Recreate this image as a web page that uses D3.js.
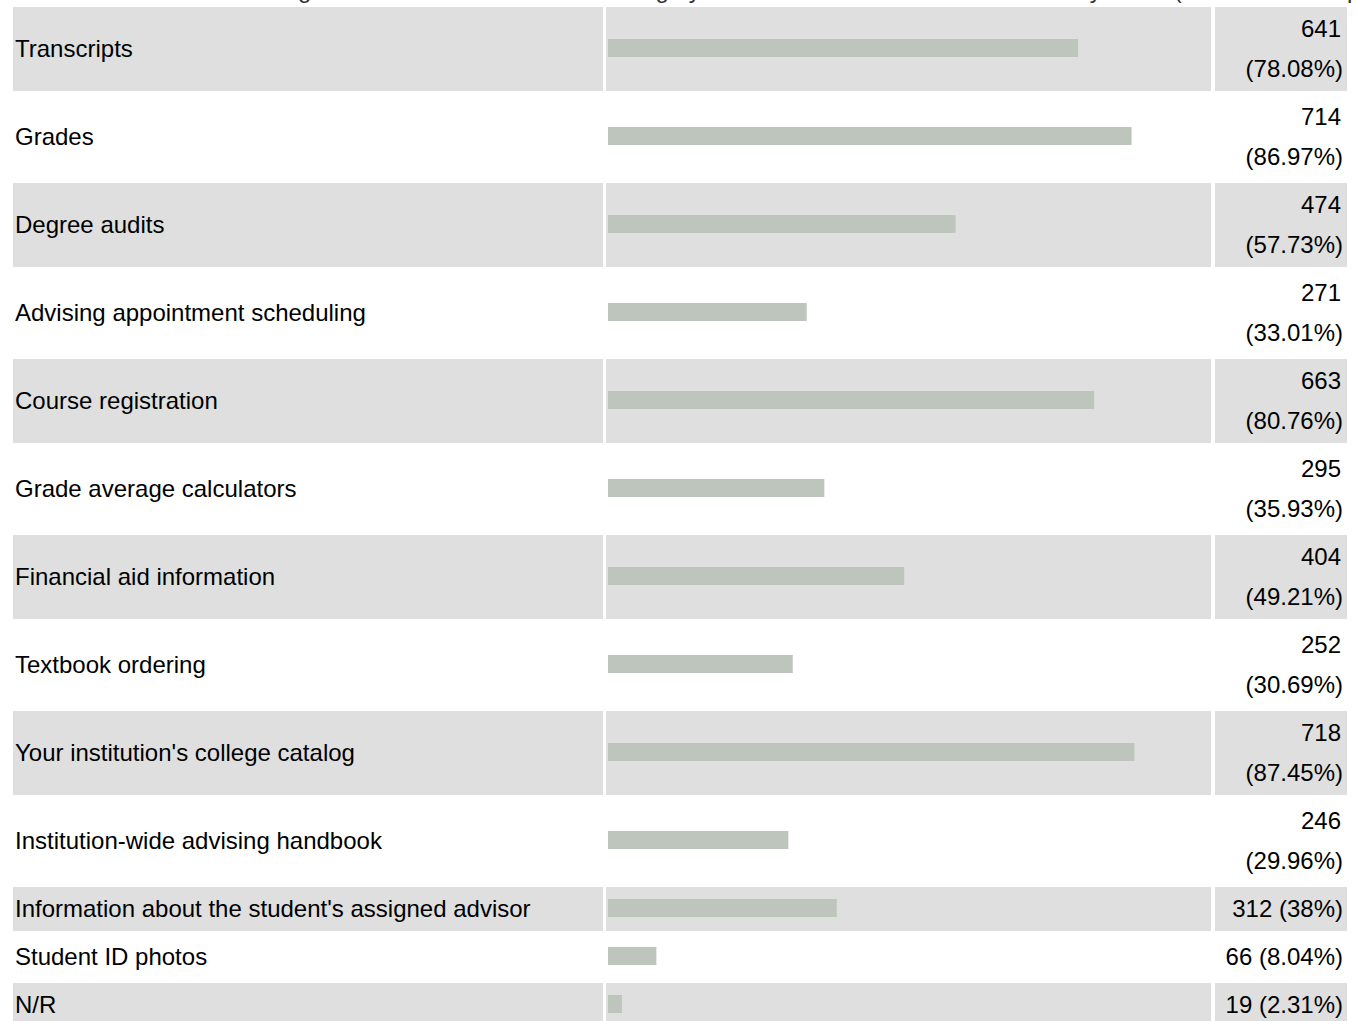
<!DOCTYPE html>
<html>
<head>
<meta charset="utf-8">
<script src="https://cdn.jsdelivr.net/npm/d3@7"></script>
<style>
  html, body { margin: 0; padding: 0; background: #ffffff; }
  svg { display: block; }
  text { font-family: "Liberation Sans", Arial, sans-serif; }
</style>
</head>
<body>
<svg id="chart" width="1357" height="1021"></svg>
<script>
const titleText = "Which of the following are accessible to advisors through your institution's student information system? (Check all that apply)";
const categories = [
  "Transcripts",
  "Grades",
  "Degree audits",
  "Advising appointment scheduling",
  "Course registration",
  "Grade average calculators",
  "Financial aid information",
  "Textbook ordering",
  "Your institution's college catalog",
  "Institution-wide advising handbook",
  "Information about the student's assigned advisor",
  "Student ID photos",
  "N/R"
];
const counts = [641, 714, 474, 271, 663, 295, 404, 252, 718, 246, 312, 66, 19];
const percents = [78.08, 86.97, 57.73, 33.01, 80.76, 35.93, 49.21, 30.69, 87.45, 29.96, 38, 8.04, 2.31];
const percentLabels = ["78.08%", "86.97%", "57.73%", "33.01%", "80.76%", "35.93%", "49.21%", "30.69%", "87.45%", "29.96%", "38%", "8.04%", "2.31%"];

const svg = d3.select("#chart");
const W = 1357;
const fontSize = 24;
const labelX0 = 13, labelX1 = 603;
const barX0 = 606, barX1 = 1211;
const valX0 = 1215, valX1 = 1347;
const gap = 4;
const bandColor = "#dfdfdf";
const barColor = "#bec5bc";
const barH = 18;
const lineGap = 40;

// title (cut off at top of view, as in the reference)
svg.append("text")
  .attr("x", W / 2 + 60).attr("y", -2)
  .attr("text-anchor", "middle")
  .attr("font-size", fontSize)
  .attr("fill", "#333")
  .text(titleText);

// measure whether the value label fits on a single line
const measure = svg.append("text").attr("font-size", fontSize).attr("visibility", "hidden");
function textW(s) { measure.text(s); return measure.node().getComputedTextLength(); }

const rows = categories.map((c, i) => {
  const one = counts[i] + " (" + percentLabels[i] + ")";
  const fits = textW(one) <= (valX1 - valX0 - 6);
  return { cat: c, count: counts[i], pct: percents[i], label: percentLabels[i], one, fits, h: fits ? 44 : 84 };
});
measure.remove();

let y = 7;
rows.forEach(r => { r.y = y; y += r.h + gap; });

const x = d3.scaleLinear().domain([0, 100]).range([barX0 + 2, barX0 + 2 + 602]);

const g = svg.selectAll("g.row").data(rows).join("g").attr("class", "row")
  .attr("transform", d => `translate(0,${d.y})`);

// alternating background bands
g.filter((d, i) => i % 2 === 0).each(function (d) {
  const s = d3.select(this);
  s.append("rect").attr("x", labelX0).attr("y", 0).attr("width", labelX1 - labelX0).attr("height", d.h).attr("fill", bandColor);
  s.append("rect").attr("x", barX0).attr("y", 0).attr("width", barX1 - barX0).attr("height", d.h).attr("fill", bandColor);
  s.append("rect").attr("x", valX0).attr("y", 0).attr("width", valX1 - valX0).attr("height", d.h).attr("fill", bandColor);
});

// labels
g.append("text")
  .attr("x", 15).attr("y", d => d.h / 2)
  .attr("dy", "0.35em")
  .attr("font-size", fontSize)
  .attr("fill", "#000")
  .text(d => d.cat);

// bars
g.append("rect")
  .attr("x", x(0))
  .attr("y", d => d.h / 2 - barH / 2 - 1)
  .attr("width", d => x(d.pct) - x(0))
  .attr("height", barH)
  .attr("fill", barColor);

// values
g.each(function (d) {
  const s = d3.select(this);
  if (d.fits) {
    s.append("text").attr("x", valX1 - 4).attr("y", d.h / 2).attr("dy", "0.35em")
      .attr("text-anchor", "end").attr("font-size", fontSize).attr("fill", "#000").text(d.one);
  } else {
    s.append("text").attr("x", valX1 - 6).attr("y", d.h / 2 - lineGap / 2).attr("dy", "0.35em")
      .attr("text-anchor", "end").attr("font-size", fontSize).attr("fill", "#000").text(d.count);
    s.append("text").attr("x", valX1 - 4).attr("y", d.h / 2 + lineGap / 2).attr("dy", "0.35em")
      .attr("text-anchor", "end").attr("font-size", fontSize).attr("fill", "#000").text("(" + d.label + ")");
  }
});
</script>
</body>
</html>
